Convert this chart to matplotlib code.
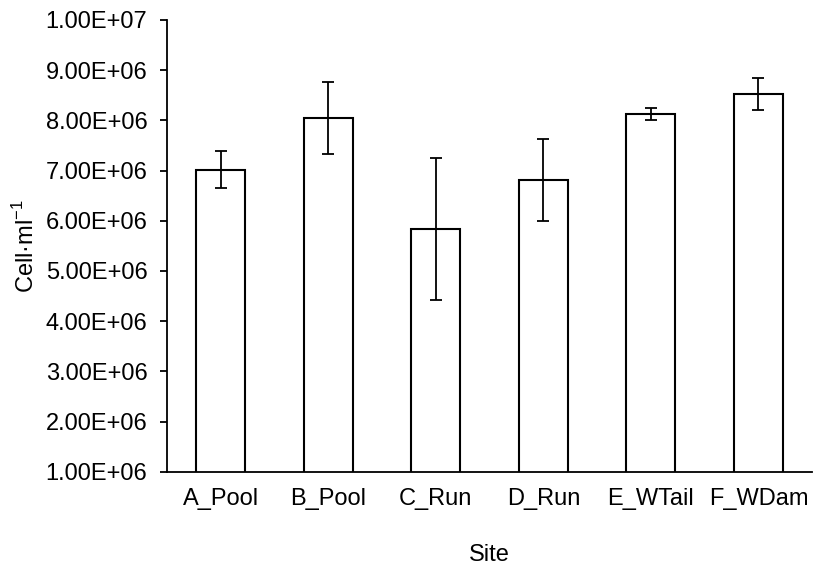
import matplotlib.pyplot as plt
from matplotlib.ticker import FuncFormatter, MultipleLocator

plt.rcParams["font.family"] = ["Liberation Sans", "DejaVu Sans"]
plt.rcParams["mathtext.fontset"] = "custom"
plt.rcParams["mathtext.rm"] = "Liberation Sans"

sites = ["A_Pool", "B_Pool", "C_Run", "D_Run", "E_WTail", "F_WDam"]
cells = [7.02e6, 8.05e6, 5.84e6, 6.81e6, 8.13e6, 8.53e6]
errors = [0.36e6, 0.72e6, 1.41e6, 0.81e6, 0.12e6, 0.32e6]

fig = plt.figure(figsize=(8.18, 5.69), dpi=100)
ax = fig.add_axes([0.204, 0.171, 0.789, 0.794])

x = range(len(sites))
ax.bar(x, cells, width=0.455, bottom=0, color="white", edgecolor="black",
       linewidth=1.5, zorder=2)
ax.errorbar(x, cells, yerr=errors, fmt="none", ecolor="black", elinewidth=1.3,
            capsize=4.5, capthick=1.3, zorder=3)

ax.set_xlim(-0.5, len(sites) - 0.5)
ax.set_ylim(1e6, 1e7)
ax.yaxis.set_major_locator(MultipleLocator(1e6))
ax.yaxis.set_major_formatter(FuncFormatter(lambda v, _: f"{v:.2E}"))
ax.set_xticks(list(x))
ax.set_xticklabels(sites)

for side in ("top", "right"):
    ax.spines[side].set_visible(False)
for side in ("left", "bottom"):
    ax.spines[side].set_linewidth(1.3)
    ax.spines[side].set_zorder(4)

ax.tick_params(axis="y", length=5, width=1.3, pad=9, labelsize=17)
ax.tick_params(axis="x", length=0, pad=12, labelsize=17)

ax.set_xlabel("Site", fontsize=17, labelpad=24)
ax.set_ylabel(r"Cell·ml$^{\mathregular{-1}}$", fontsize=17, labelpad=5)

fig.savefig("out.png", dpi=100)
